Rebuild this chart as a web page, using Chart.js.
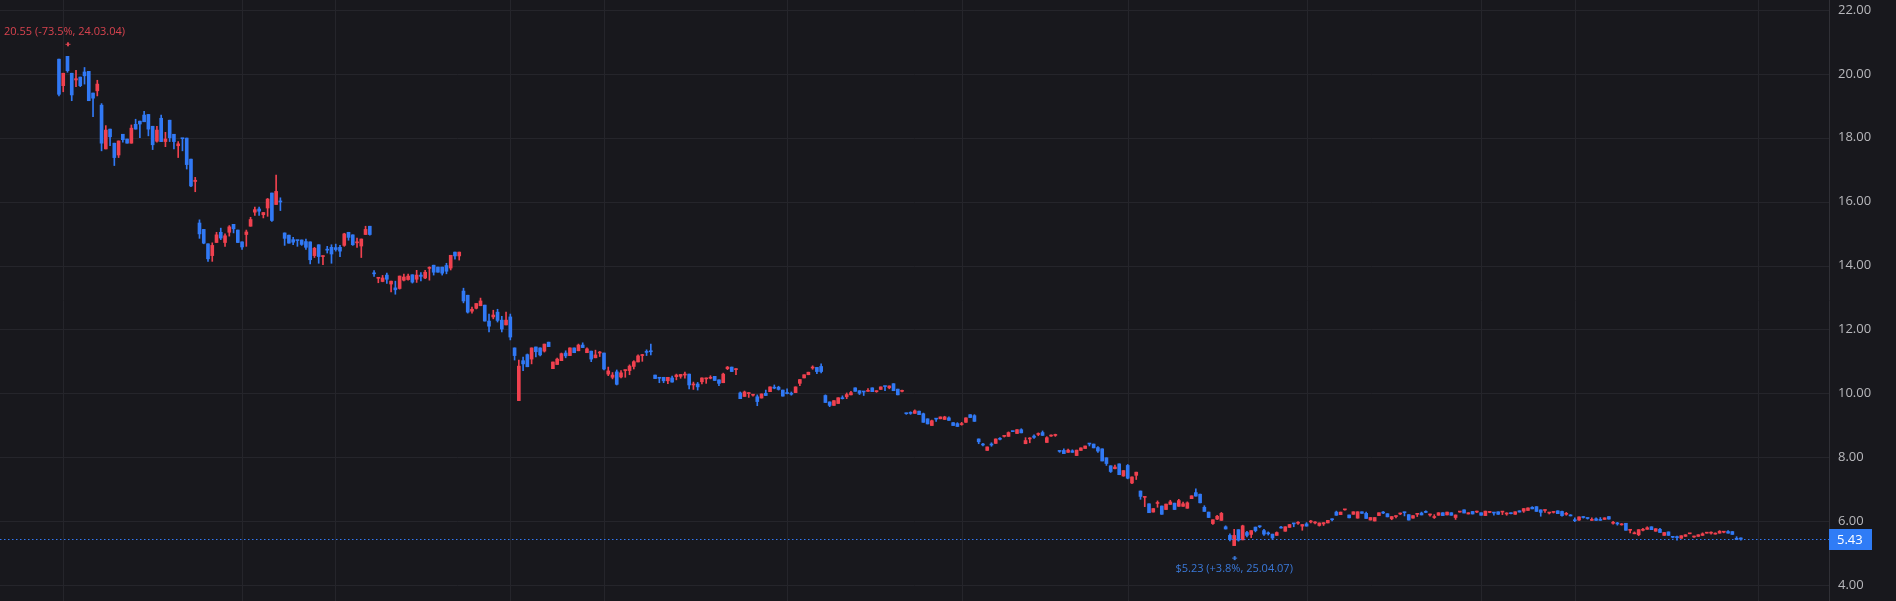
<!DOCTYPE html>
<html><head><meta charset="utf-8">
<script src="https://cdn.jsdelivr.net/npm/chart.js@4/dist/chart.umd.min.js"></script>
<style>html,body{margin:0;padding:0;background:#18181d;overflow:hidden}</style>
</head><body>
<canvas id="c" width="1896" height="601" style="width:1896px;height:601px;display:block"></canvas>
<script>
const opens=[20.46,19.63,20.55,20.02,19.81,19.90,20.06,20.08,19.40,19.47,19.02,17.65,18.27,17.83,17.46,18.11,17.96,17.83,18.42,18.52,18.71,18.73,18.36,17.89,18.61,17.88,18.55,18.11,17.75,17.98,17.99,17.33,16.63,
15.33,15.13,14.68,14.31,14.72,15.04,14.72,15.04,15.29,15.11,14.74,14.97,15.23,15.67,15.77,15.59,15.80,16.27,15.91,16.02,
15.02,14.95,14.81,14.79,14.80,14.75,14.74,14.31,14.65,14.28,14.50,14.57,14.56,14.57,14.63,15.04,14.96,14.71,14.61,14.97,15.23,
13.77,13.60,13.50,13.70,13.42,13.30,13.28,13.54,13.56,13.71,13.57,13.70,13.61,13.91,14.01,13.95,13.95,14.00,13.92,14.42,14.30,
13.20,13.07,12.57,12.66,12.74,12.76,12.26,12.39,12.54,12.29,12.14,12.39,
11.42,9.77,11.02,11.21,11.07,11.45,11.42,11.32,11.60,
10.77,10.90,11.02,11.26,11.18,11.42,11.33,11.51,11.27,11.32,11.11,11.26,11.26,10.60,10.50,10.67,10.51,10.71,10.71,10.84,10.98,11.18,11.30,11.32,
10.57,10.48,10.50,10.39,10.48,10.52,10.53,10.57,10.60,10.26,10.29,10.36,10.45,10.47,10.53,10.42,10.33,10.77,10.82,10.74,
10.01,9.90,9.99,9.94,9.89,9.85,10.00,10.05,10.19,10.19,10.10,10.00,9.98,10.02,10.31,10.48,10.58,10.79,10.81,10.84,
9.93,9.73,9.62,9.68,9.86,9.89,9.95,10.17,10.08,10.05,10.06,10.17,10.05,10.12,10.22,10.17,10.30,10.13,10.06,
9.38,9.38,9.37,9.44,9.36,9.20,8.99,9.20,9.20,9.18,9.23,9.08,9.05,9.02,9.09,9.33,9.30,
8.57,8.39,8.21,8.39,8.43,8.58,8.65,8.65,8.81,8.74,8.86,
8.42,8.57,8.66,8.71,8.77,8.46,8.66,8.68,
8.19,8.21,8.15,8.20,8.05,8.21,8.27,8.42,8.41,8.30,8.26,7.98,7.73,7.64,7.79,7.41,7.74,7.19,7.43,
6.94,6.74,6.54,6.28,6.55,6.47,6.36,6.52,6.56,6.46,6.46,6.40,6.70,6.89,6.84,6.43,6.28,5.92,6.06,6.02,
5.82,5.55,5.23,5.73,5.41,5.64,5.58,5.81,5.83,5.70,5.61,5.59,5.55,5.80,5.68,5.80,5.92,5.93,5.84,5.91,5.97,5.94,5.86,5.91,5.94,6.05,
6.28,6.20,6.35,6.19,6.21,6.09,6.29,6.24,6.03,6.00,6.17,6.27,6.23,6.07,6.14,6.22,6.28,6.20,6.09,6.21,6.25,6.29,6.19,6.11,6.18,6.26,6.19,6.26,6.11,6.28,6.35,6.22,6.30,6.28,6.26,6.17,6.27,6.26,6.29,
6.28,6.22,6.24,6.21,6.32,6.31,6.33,6.43,6.45,6.35,6.33,6.25,6.27,6.32,6.30,6.21,6.18,6.03,6.03,6.13,6.09,6.02,6.07,6.03,6.05,6.14,
5.93,5.94,5.88,5.93,5.71,5.60,5.57,5.71,5.74,5.82,5.68,5.74,5.55,5.66,5.50,5.50,5.46,5.52,5.60,5.50,5.52,5.55,5.62,5.62,5.59,5.62,5.65,5.67,5.67,5.46,5.47];
const highs=[20.46,20.02,20.55,20.02,20.11,19.90,20.20,20.08,19.40,19.80,19.07,18.38,18.27,17.83,17.90,18.11,17.96,18.40,18.58,18.52,18.83,18.73,18.36,18.36,18.71,18.17,18.55,18.11,17.88,17.98,17.99,17.33,16.76,
15.43,15.13,14.68,14.71,15.04,15.17,14.99,15.25,15.29,15.11,14.74,15.11,15.51,15.83,15.83,15.66,16.10,16.27,16.83,16.12,
15.02,14.95,14.88,14.79,14.80,14.83,14.74,14.57,14.65,14.30,14.60,14.65,14.67,14.63,15.01,15.04,14.96,14.86,14.83,15.23,15.23,
13.84,13.63,13.69,13.76,13.51,13.51,13.67,13.73,13.73,13.71,13.85,13.78,13.85,13.96,14.01,13.95,13.95,14.07,14.32,14.42,14.42,
13.29,13.07,12.70,12.81,12.98,12.76,12.48,12.60,12.63,12.41,12.54,12.48,
11.42,11.04,11.13,11.23,11.42,11.45,11.42,11.54,11.60,
10.98,11.10,11.26,11.33,11.42,11.42,11.54,11.58,11.42,11.32,11.35,11.31,11.26,10.82,10.65,10.73,10.71,10.73,10.89,11.02,11.20,11.22,11.36,11.54,
10.57,10.48,10.50,10.50,10.54,10.60,10.59,10.66,10.60,10.35,10.34,10.48,10.48,10.55,10.53,10.42,10.63,10.84,10.82,10.77,
10.04,10.07,10.02,9.96,9.95,9.98,10.10,10.20,10.26,10.22,10.10,10.14,10.04,10.20,10.43,10.58,10.66,10.86,10.81,10.92,
9.95,9.73,9.77,9.86,9.92,10.01,10.06,10.17,10.08,10.05,10.15,10.17,10.08,10.20,10.22,10.23,10.30,10.13,10.10,
9.38,9.42,9.48,9.44,9.38,9.20,9.16,9.20,9.26,9.28,9.26,9.08,9.08,9.09,9.23,9.33,9.33,
8.57,8.43,8.32,8.45,8.57,8.61,8.66,8.79,8.81,8.86,8.89,
8.61,8.61,8.70,8.76,8.82,8.64,8.70,8.72,
8.19,8.26,8.25,8.23,8.22,8.29,8.35,8.42,8.41,8.33,8.26,7.98,7.73,7.75,7.79,7.58,7.77,7.38,7.53,
6.94,6.75,6.54,6.39,6.63,6.47,6.53,6.65,6.56,6.68,6.59,6.60,6.79,7.01,6.84,6.48,6.28,6.04,6.18,6.27,
5.85,5.60,5.74,5.73,5.87,5.68,5.70,5.81,5.85,5.74,5.66,5.59,5.66,5.83,5.82,5.89,5.93,5.98,5.89,5.95,6.02,5.98,5.94,5.95,6.02,6.07,
6.31,6.28,6.37,6.19,6.29,6.29,6.29,6.28,6.11,6.11,6.26,6.30,6.23,6.14,6.16,6.25,6.28,6.20,6.17,6.22,6.28,6.32,6.22,6.20,6.26,6.26,6.28,6.26,6.19,6.30,6.35,6.26,6.30,6.31,6.26,6.31,6.29,6.26,6.29,
6.29,6.26,6.26,6.29,6.32,6.39,6.41,6.45,6.45,6.35,6.34,6.27,6.29,6.32,6.31,6.27,6.20,6.10,6.13,6.14,6.10,6.10,6.10,6.11,6.10,6.14,
5.99,5.96,5.92,5.93,5.74,5.66,5.73,5.77,5.82,5.82,5.76,5.77,5.64,5.66,5.50,5.53,5.54,5.57,5.60,5.53,5.57,5.63,5.63,5.66,5.63,5.70,5.67,5.70,5.67,5.51,5.47];
const lows=[19.31,19.44,20.05,19.16,19.60,19.60,19.68,19.16,18.66,19.31,17.59,17.65,17.75,17.13,17.38,17.86,17.83,17.83,18.27,18.00,18.50,18.06,17.63,17.86,17.88,17.72,17.88,17.65,17.38,17.59,17.02,16.47,16.31,
14.85,14.68,14.13,14.13,14.72,14.81,14.60,14.92,15.02,14.72,14.50,14.60,15.23,15.57,15.57,15.49,15.54,15.38,15.91,15.72,
14.63,14.70,14.65,14.60,14.63,14.50,14.05,14.25,14.07,14.03,14.39,14.07,14.45,14.28,14.60,14.79,14.63,14.57,14.25,14.97,14.95,
13.66,13.46,13.49,13.44,13.17,13.10,13.26,13.52,13.54,13.45,13.47,13.52,13.59,13.54,13.70,13.79,13.70,13.74,13.86,14.20,14.17,
12.83,12.51,12.51,12.64,12.74,12.26,11.92,12.33,12.23,11.92,12.14,11.67,
11.04,9.77,10.71,10.83,10.92,11.14,11.17,11.29,11.46,
10.77,10.90,11.02,11.11,11.18,11.27,11.33,11.43,11.27,10.99,11.11,11.15,10.73,10.55,10.45,10.26,10.48,10.50,10.58,10.76,10.98,11.00,11.18,11.20,
10.46,10.33,10.33,10.30,10.35,10.42,10.47,10.47,10.14,10.12,10.10,10.29,10.31,10.45,10.40,10.24,10.33,10.74,10.68,10.58,
9.83,9.90,9.87,9.91,9.61,9.85,9.93,10.05,10.14,10.10,9.91,9.98,9.94,10.02,10.24,10.48,10.58,10.75,10.61,10.64,
9.71,9.58,9.62,9.68,9.82,9.83,9.95,10.06,9.96,9.93,10.06,10.05,10.03,10.12,10.08,10.14,10.08,9.95,10.04,
9.34,9.34,9.37,9.33,9.09,9.04,8.99,9.12,9.20,9.18,9.15,8.99,8.96,9.00,9.09,9.24,9.12,
8.42,8.35,8.21,8.34,8.43,8.54,8.63,8.65,8.80,8.74,8.76,
8.42,8.45,8.59,8.67,8.68,8.46,8.65,8.65,
8.15,8.11,8.15,8.15,8.05,8.21,8.27,8.35,8.29,8.15,7.88,7.74,7.52,7.63,7.45,7.40,7.32,7.17,7.30,
6.68,6.45,6.26,6.28,6.43,6.21,6.36,6.52,6.36,6.46,6.46,6.40,6.70,6.78,6.57,6.30,6.11,5.89,6.04,6.02,
5.75,5.38,5.23,5.37,5.41,5.50,5.48,5.66,5.79,5.55,5.56,5.42,5.55,5.78,5.68,5.80,5.82,5.89,5.71,5.84,5.94,5.91,5.84,5.86,5.94,6.00,
6.18,6.20,6.34,6.10,6.21,6.09,6.24,6.08,6.03,6.00,6.17,6.23,6.13,6.04,6.10,6.20,6.16,6.03,6.09,6.14,6.19,6.26,6.15,6.08,6.18,6.17,6.19,6.18,6.05,6.28,6.25,6.22,6.22,6.26,6.18,6.17,6.26,6.18,6.21,
6.20,6.18,6.22,6.21,6.28,6.27,6.33,6.38,6.30,6.15,6.27,6.22,6.25,6.23,6.15,6.18,6.16,5.98,6.02,6.09,6.06,6.02,6.02,6.02,6.05,6.06,
5.90,5.87,5.87,5.71,5.63,5.60,5.54,5.69,5.74,5.73,5.68,5.64,5.55,5.55,5.47,5.40,5.46,5.52,5.60,5.49,5.52,5.55,5.62,5.59,5.59,5.62,5.63,5.62,5.58,5.42,5.40];
const closes=[19.36,20.02,20.10,19.34,19.85,19.63,19.94,19.16,19.24,19.68,17.83,18.24,18.03,17.38,17.90,17.94,17.83,18.30,18.27,18.43,18.50,18.27,17.78,18.24,17.88,17.96,18.00,17.88,17.81,17.97,17.16,16.49,16.67,
14.99,14.70,14.21,14.63,14.96,14.86,14.93,15.21,15.15,14.72,14.58,15.05,15.44,15.75,15.70,15.66,16.08,15.41,16.32,15.99,
14.85,14.70,14.73,14.78,14.66,14.57,14.18,14.54,14.28,14.29,14.48,14.36,14.50,14.45,14.99,14.88,14.65,14.74,14.83,15.13,14.97,
13.74,13.63,13.61,13.57,13.51,13.24,13.67,13.64,13.67,13.48,13.70,13.66,13.79,13.93,13.79,13.79,13.76,13.82,14.32,14.30,14.42,
12.89,12.54,12.63,12.81,12.89,12.26,12.10,12.45,12.28,12.01,12.29,11.76,
11.18,10.85,10.92,10.83,11.42,11.30,11.20,11.54,11.46,
10.98,11.07,11.24,11.17,11.42,11.27,11.51,11.43,11.39,11.07,11.20,11.28,10.76,10.70,10.57,10.28,10.64,10.73,10.85,10.99,11.17,11.20,11.28,11.30,
10.46,10.47,10.39,10.50,10.35,10.57,10.59,10.58,10.26,10.29,10.20,10.48,10.47,10.50,10.40,10.31,10.60,10.82,10.68,10.76,
9.83,10.04,10.00,9.96,9.74,9.98,9.93,10.20,10.16,10.12,9.91,9.99,9.97,10.20,10.43,10.58,10.66,10.81,10.68,10.68,
9.71,9.62,9.77,9.86,9.83,9.96,10.02,10.06,10.00,10.04,10.08,10.05,10.08,10.20,10.21,10.23,10.08,9.95,10.08,
9.36,9.37,9.45,9.33,9.09,9.04,9.14,9.19,9.26,9.26,9.15,8.99,8.96,9.03,9.23,9.24,9.12,
8.48,8.38,8.32,8.38,8.57,8.56,8.66,8.77,8.80,8.86,8.76,
8.52,8.59,8.62,8.72,8.68,8.61,8.67,8.70,
8.18,8.11,8.22,8.15,8.22,8.29,8.35,8.41,8.29,8.19,7.88,7.80,7.55,7.69,7.45,7.58,7.34,7.38,7.53,
6.77,6.75,6.26,6.39,6.56,6.21,6.53,6.60,6.36,6.64,6.54,6.57,6.79,6.78,6.57,6.30,6.11,6.04,6.15,6.24,
5.75,5.42,5.55,5.40,5.85,5.55,5.70,5.70,5.82,5.59,5.60,5.47,5.64,5.78,5.82,5.89,5.91,5.94,5.89,5.84,5.99,5.96,5.94,5.95,6.02,6.04,
6.18,6.28,6.36,6.10,6.29,6.29,6.24,6.08,6.11,6.11,6.26,6.25,6.13,6.14,6.15,6.23,6.26,6.03,6.17,6.22,6.19,6.27,6.20,6.12,6.26,6.17,6.28,6.18,6.19,6.30,6.25,6.26,6.22,6.29,6.18,6.31,6.28,6.25,6.21,
6.29,6.24,6.23,6.29,6.28,6.39,6.41,6.38,6.30,6.27,6.34,6.27,6.28,6.23,6.17,6.23,6.16,6.01,6.13,6.11,6.08,6.03,6.02,6.02,6.10,6.06,
5.94,5.91,5.89,5.71,5.73,5.63,5.73,5.73,5.79,5.73,5.76,5.64,5.64,5.55,5.49,5.48,5.54,5.57,5.60,5.52,5.57,5.60,5.63,5.63,5.61,5.68,5.66,5.62,5.58,5.42,5.43];
const yTicks=[4,6,8,10,12,14,16,18,20,22];
const monthGrid=[0.9,43,64.8,106,128,171,212,251,293,334,356,399];
const highIdx=2, highLabel="20.55 (-73.5%, 24.03.04)";
const lowIdx=276, lowLabel="$5.23 (+3.8%, 25.04.07)";
const lastPrice=closes[closes.length-1];

const UP='#f0414f', DOWN='#3179f5', GRID='#25252b';
const FONT='"Open Sans", Roboto, sans-serif';
const idx=opens.map((_,i)=>i);
const cols=idx.map(i=>closes[i]>=opens[i]?UP:DOWN);
const wicks=idx.map(i=>({x:i,y:[Math.min(lows[i],opens[i],closes[i]),Math.max(highs[i],opens[i],closes[i])]}));
const bodies=idx.map(i=>({x:i,y:[opens[i],closes[i]]}));

const bg={id:'bg',beforeDraw(c){const g=c.ctx;g.save();g.fillStyle='#18181d';g.fillRect(0,0,c.width,c.height);g.restore();}};
const axes={id:'axes',beforeDatasetsDraw(c){
  const g=c.ctx,xs=c.scales.x,ys=c.scales.y,a=c.chartArea;
  g.save();g.strokeStyle=GRID;g.lineWidth=1;
  monthGrid.forEach(v=>{const x=Math.round(xs.getPixelForValue(v))+0.5;g.beginPath();g.moveTo(x,0);g.lineTo(x,c.height);g.stroke();});
  yTicks.forEach(v=>{const y=Math.round(ys.getPixelForValue(v))+0.5;g.beginPath();g.moveTo(0,y);g.lineTo(a.right,y);g.stroke();});
  g.strokeStyle='#303036';const bx=Math.round(a.right)+0.5;g.beginPath();g.moveTo(bx,0);g.lineTo(bx,c.height);g.stroke();
  g.fillStyle='#b8b8bc';g.font='13px '+FONT;g.textAlign='left';g.textBaseline='middle';
  yTicks.forEach(v=>g.fillText(v.toFixed(2),a.right+9,ys.getPixelForValue(v)));
  g.restore();
}};
const overlay={id:'ov',afterDatasetsDraw(c){
  const g=c.ctx,xs=c.scales.x,ys=c.scales.y,a=c.chartArea;
  g.save();
  const py=Math.round(ys.getPixelForValue(lastPrice))+0.5;
  g.strokeStyle='#3179f5';g.lineWidth=1;g.setLineDash([1.5,2.5]);
  g.beginPath();g.moveTo(0,py);g.lineTo(a.right,py);g.stroke();g.setLineDash([]);
  g.font='11px '+FONT;g.textBaseline='middle';
  const hx=xs.getPixelForValue(highIdx), hy=ys.getPixelForValue(highs[highIdx]);
  g.fillStyle='#d8434f';
  g.fillRect(hx-2,hy-12.5,5,1);g.fillRect(hx-0.5,hy-14,2,4);
  g.textAlign='left';g.fillText(highLabel,4,hy-24);
  const lx=xs.getPixelForValue(lowIdx), ly=ys.getPixelForValue(lows[lowIdx]);
  g.fillStyle='#3a78d8';
  g.fillRect(lx-2,ly+12,5,1);g.fillRect(lx-0.5,ly+10.5,2,4);
  g.textAlign='center';g.fillText(lowLabel,lx,ly+23.5);
  g.fillStyle='#2f7cf6';g.fillRect(a.right,py-10.5,43,21);
  g.fillStyle='#ffffff';g.font='13px '+FONT;g.textAlign='left';
  g.fillText(lastPrice.toFixed(2),a.right+8,py+0.5);
  g.restore();
}};

new Chart(document.getElementById('c'),{
  type:'bar',
  data:{datasets:[
    {data:wicks,backgroundColor:cols,barThickness:1,grouped:false,order:2},
    {data:bodies,backgroundColor:cols,barThickness:3,grouped:false,minBarLength:1,order:1}
  ]},
  options:{
    responsive:false,animation:false,devicePixelRatio:1,
    layout:{padding:{left:0,top:0,bottom:0,right:67}},
    plugins:{legend:{display:false},tooltip:{enabled:false}},
    scales:{
      x:{type:'linear',display:false,min:-13.85,max:415.7,offset:false},
      y:{display:false,min:3.496,max:22.313}
    }
  },
  plugins:[bg,axes,overlay]
});
</script>
</body></html>
